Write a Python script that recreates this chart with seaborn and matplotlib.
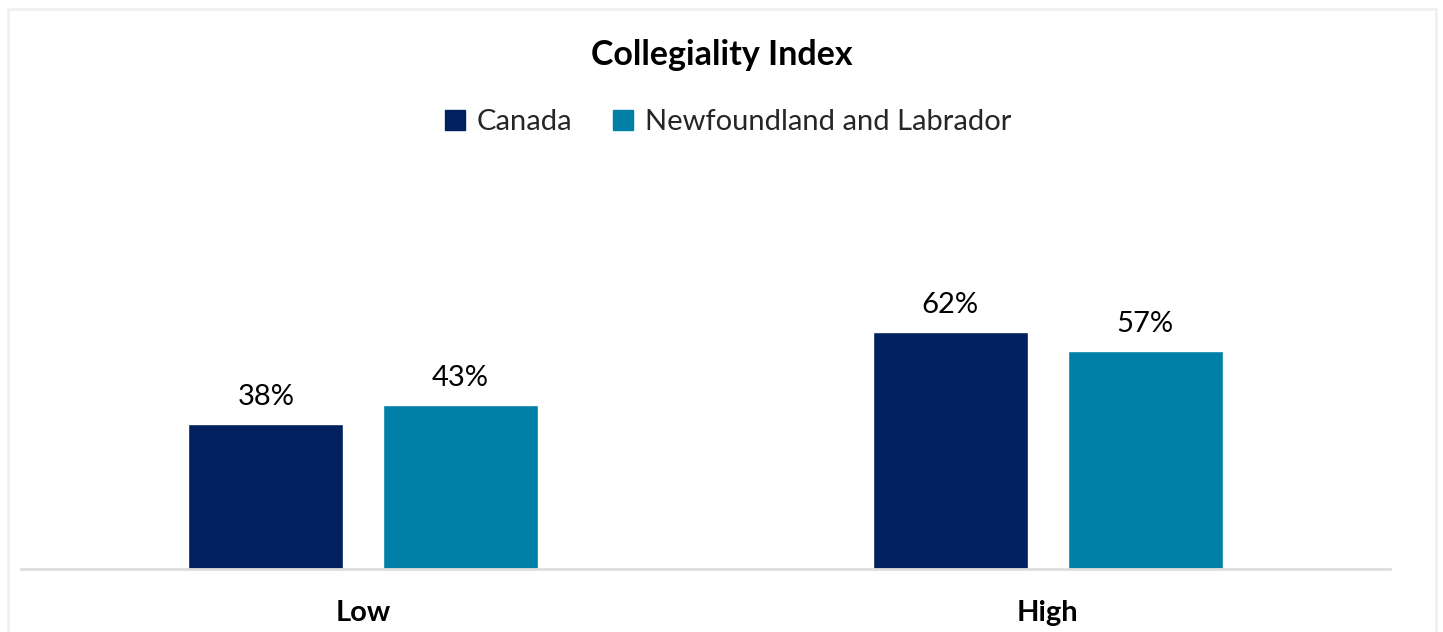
import matplotlib
matplotlib.use("Agg")
import matplotlib.pyplot as plt
from matplotlib.patches import Rectangle
import seaborn as sns
import pandas as pd

categories = ["Low", "High"]
series = ["Canada", "Newfoundland and Labrador"]
canada = [38, 62]
nl = [43, 57]
colors = ["#002060", "#0080A6"]

df = pd.DataFrame({
    "level": categories * 2,
    "region": [series[0]] * 2 + [series[1]] * 2,
    "value": canada + nl,
})

sns.set_theme(style="white")
plt.rcParams["font.family"] = ["Lato", "DejaVu Sans"]

W, H = 1443, 632
fig = plt.figure(figsize=(W / 100, H / 100), dpi=100)
ax = fig.add_axes([21 / W, (H - 569) / H, (1390 - 21) / W, 0.665])

sns.barplot(data=df, x="level", y="value", hue="region", order=categories,
            hue_order=series, palette=colors, width=0.569, gap=0.205,
            saturation=1, ax=ax, legend=False)

ax.set_xlim(-0.5, 1.5)
ax.set_ylim(0, 110)
for cont in ax.containers:
    ax.bar_label(cont, fmt="%g%%", padding=10, fontsize=21, color="#000000")

ax.set_xlabel("")
ax.set_ylabel("")
ax.set_yticks([])
ax.tick_params(axis="x", length=0, pad=22, labelsize=21)
for lbl in ax.get_xticklabels():
    lbl.set_fontweight("bold")
    lbl.set_color("#000000")
for side in ["top", "right", "left"]:
    ax.spines[side].set_visible(False)
ax.spines["bottom"].set_color("#DEDEDE")
ax.spines["bottom"].set_linewidth(2)

fig.text(722 / W, 1 - 55 / H, "Collegiality Index", ha="center", va="center",
         fontsize=24.5, fontweight="bold", color="#000000")

handles = [Rectangle((0, 0), 1, 1, color=c) for c in colors]
fig.legend(handles, series, loc="center", bbox_to_anchor=(728 / W, 1 - 122 / H),
           ncol=2, frameon=False, fontsize=21, handlelength=0.7,
           handleheight=0.7, handletextpad=0.4, columnspacing=1.4)

# light frame around the chart area
fig.add_artist(Rectangle((7.5 / W, -0.05), (1436 - 7.5) / W, 1.05 - 9 / H,
                         transform=fig.transFigure, fill=False,
                         edgecolor="#EFEFEF", linewidth=1.8))

fig.savefig("out.png", dpi=100, facecolor="white")
